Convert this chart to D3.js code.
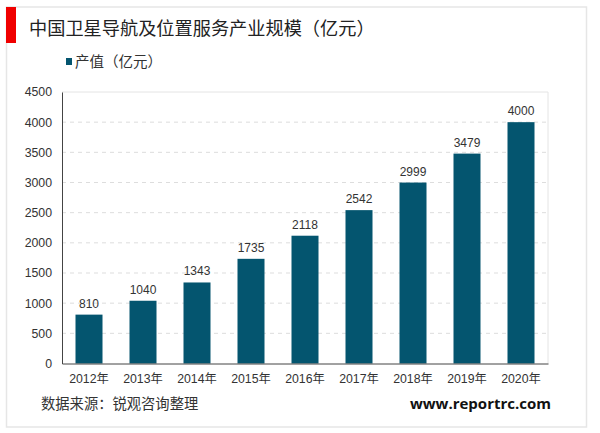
<!DOCTYPE html>
<html>
<head>
<meta charset="utf-8">
<script src="https://cdn.jsdelivr.net/npm/d3@7"></script>
<style>
  html, body { margin: 0; padding: 0; background: #fff; overflow: hidden; }
  text { font-family: "Liberation Sans", "Noto Sans CJK SC", sans-serif; }
</style>
</head>
<body>
<script>
// chart data
const years = ["2012年", "2013年", "2014年", "2015年", "2016年", "2017年", "2018年", "2019年", "2020年"];
const values = [810, 1040, 1343, 1735, 2118, 2542, 2999, 3479, 4000];
const yTicks = [0, 500, 1000, 1500, 2000, 2500, 3000, 3500, 4000, 4500];

const titleText = "中国卫星导航及位置服务产业规模（亿元）";
const legendText = "产值（亿元）";
const sourceText = "数据来源：锐观咨询整理";
const siteText = "www.reportrc.com";

const w = 600, h = 433;
const barColor = "#04556F";
const inkColor = "#333";

const svg = d3.select("body").append("svg")
    .attr("width", w)
    .attr("height", h)
    .style("display", "block");

// outer frame and the red title marker
svg.append("rect")
    .attr("x", 6.5).attr("y", 7)
    .attr("width", 580).attr("height", 420)
    .attr("fill", "#fff")
    .attr("stroke", "#E6E6E6")
    .attr("stroke-width", 1.5);
svg.append("rect")
    .attr("x", 6).attr("y", 7)
    .attr("width", 10).attr("height", 36)
    .attr("fill", "#F00000");

svg.append("text")
    .attr("x", 29).attr("y", 35)
    .attr("font-size", 18.2)
    .attr("fill", "#222")
    .text(titleText);

// legend
svg.append("rect")
    .attr("x", 66).attr("y", 58)
    .attr("width", 6).attr("height", 7)
    .attr("fill", barColor);
svg.append("text")
    .attr("x", 75).attr("y", 67)
    .attr("font-size", 14.5)
    .attr("fill", inkColor)
    .text(legendText);

// scales
const margin = { left: 62, right: 548, top: 92, bottom: 363.5 };
const x = d3.scaleBand().domain(years).range([margin.left, margin.right]).paddingInner(0.5).paddingOuter(0.25);
const y = d3.scaleLinear().domain([0, 4500]).range([margin.bottom, margin.top]);

// plot border, top and right sides
svg.append("path")
    .attr("d", `M${margin.left},${margin.top}H${margin.right}V${margin.bottom}`)
    .attr("fill", "none")
    .attr("stroke", "#E4E4E4");

// dashed gridlines
svg.append("g")
    .selectAll("line")
    .data(yTicks.filter(d => d > 0 && d < 4500))
    .enter()
    .append("line")
    .attr("x1", margin.left)
    .attr("x2", margin.right)
    .attr("y1", d => y(d))
    .attr("y2", d => y(d))
    .attr("stroke", "#DDD")
    .attr("stroke-dasharray", "4 4");

// bars
svg.append("g")
    .selectAll("rect")
    .data(values)
    .enter()
    .append("rect")
    .attr("x", (d, i) => x(years[i]))
    .attr("y", d => y(d))
    .attr("width", x.bandwidth())
    .attr("height", d => y(0) - y(d))
    .attr("fill", barColor);

// value labels
svg.append("g")
    .selectAll("text")
    .data(values)
    .enter()
    .append("text")
    .attr("x", (d, i) => x(years[i]) + x.bandwidth() / 2)
    .attr("y", d => y(d) - 7)
    .attr("text-anchor", "middle")
    .attr("font-size", 12)
    .attr("fill", inkColor)
    .text(d => d);

// axes
const yAxis = svg.append("g")
    .attr("transform", `translate(${margin.left},0)`)
    .call(d3.axisLeft(y).tickValues(yTicks).tickFormat(d3.format("d")).tickSize(0).tickPadding(10));
const xAxis = svg.append("g")
    .attr("transform", `translate(0,${margin.bottom})`)
    .call(d3.axisBottom(x).tickSize(0).tickPadding(11));

yAxis.attr("font-family", null);
xAxis.attr("font-family", null);
yAxis.selectAll("text").attr("font-size", 12.3).attr("fill", inkColor);
xAxis.selectAll("text").attr("font-size", 12.3).attr("fill", inkColor);
yAxis.select(".domain").attr("stroke", "#444").attr("stroke-width", 1);
xAxis.select(".domain").attr("stroke", "#444").attr("stroke-width", 1);

// footer
svg.append("text")
    .attr("x", 41).attr("y", 409)
    .attr("font-size", 14.3)
    .attr("fill", inkColor)
    .text(sourceText);
svg.append("text")
    .attr("x", 551).attr("y", 409)
    .attr("text-anchor", "end")
    .attr("font-size", 15)
    .attr("font-weight", "bold")
    .attr("fill", "#111")
    .style("font-family", "'Open Sans', sans-serif")
    .text(siteText);
</script>
</body>
</html>
